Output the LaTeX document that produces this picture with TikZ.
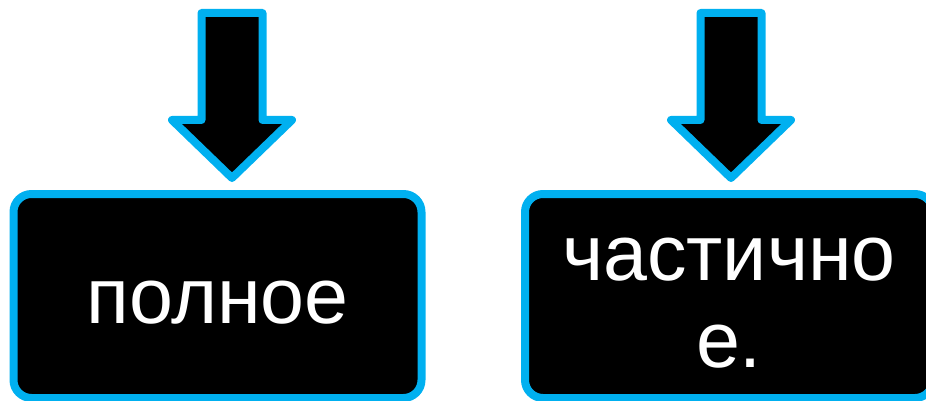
\documentclass[tikz,border=0pt]{standalone}
\usepackage{fontspec}
\setmainfont{Liberation Sans}
\usepackage{tikz}
\usetikzlibrary{positioning}
\definecolor{skyline}{RGB}{0,176,240}

\begin{document}
\begin{tikzpicture}[x=1pt, y=-1pt,
    every path/.style={line width=8pt, line join=round},
    panel/.style={rectangle, rounded corners=18pt, draw=skyline, fill=black, minimum width=408pt, minimum height=204pt, inner sep=0pt},
    word/.style={text=white, font=\fontsize{79}{87}\selectfont, align=center, inner sep=0pt}]

    \useasboundingbox (0,0) rectangle (926,401);

    % the two block arrows
    \foreach \cx in {232,731}{
        \draw[draw=skyline, fill=black]
            (\cx-30.5,13) -- (\cx+30.5,13) -- (\cx+30.5,120) -- (\cx+60,120)
            -- (\cx,178) -- (\cx-60,120) -- (\cx-30.5,120) -- cycle;
    }

    \node[panel] (full) at (217.5,296) {};
    \node[panel] (part) at (729,296) {};

    \node[word, anchor=base] (fullw) at ([yshift=-27pt]full.center) {полное};
    \node[word, anchor=base] (partw1) at ([yshift=16pt]part.center) {частично};
    \node[word, anchor=base] (partw2) at ([yshift=-71pt]part.center) {е.};

\end{tikzpicture}
\end{document}
